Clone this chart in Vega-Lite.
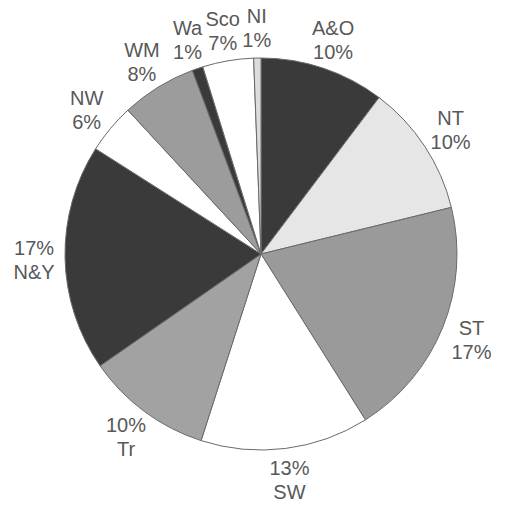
{
  "$schema": "https://vega.github.io/schema/vega-lite/v6.json",
  "autosize": {"type": "none"},
  "width": 400,
  "height": 400,
  "padding": {"left": 61, "top": 54, "right": 48, "bottom": 55},
  "background": "white",
  "data": {
    "values": [
      {"idx": 1, "region": "A&O", "share": 10.3, "label": "A&O\n10%"},
      {"idx": 2, "region": "NT", "share": 10.9, "label": "NT\n10%"},
      {"idx": 3, "region": "ST", "share": 19.9, "label": "ST\n17%"},
      {"idx": 4, "region": "SW", "share": 13.9, "label": "13%\nSW"},
      {"idx": 5, "region": "Tr", "share": 10.4, "label": "10%\nTr"},
      {"idx": 6, "region": "N&Y", "share": 18.7, "label": "17%\nN&Y"},
      {"idx": 7, "region": "NW", "share": 4.1, "label": "NW\n6%"},
      {"idx": 8, "region": "WM", "share": 6.2, "label": "WM\n8%"},
      {"idx": 9, "region": "Wa", "share": 0.9, "label": "Wa\n1%"},
      {"idx": 10, "region": "Sco", "share": 4.2, "label": "Sco\n7%"},
      {"idx": 11, "region": "NI", "share": 0.6, "label": "NI\n1%"}
    ]
  },
  "encoding": {
    "theta": {"field": "share", "type": "quantitative", "stack": true},
    "order": {"field": "idx", "type": "quantitative"}
  },
  "layer": [
    {
      "mark": {"type": "arc", "outerRadius": 196, "stroke": "#6a6a6a", "strokeWidth": 1},
      "encoding": {
        "color": {
          "field": "region",
          "type": "nominal",
          "scale": {
            "domain": ["A&O", "NT", "ST", "SW", "Tr", "N&Y", "NW", "WM", "Wa", "Sco", "NI"],
            "range": ["#3a3a3a", "#e6e6e6", "#9a9a9a", "#ffffff", "#a2a2a2", "#3a3a3a", "#ffffff", "#9c9c9c", "#3a3a3a", "#ffffff", "#dcdcdc"]
          },
          "legend": null
        }
      }
    },
    {
      "mark": {"type": "text", "radius": 227, "dy": -10, "font": "Liberation Sans", "fontSize": 20, "lineHeight": 24, "color": "#585858", "align": "center", "baseline": "middle", "lineBreak": "\n"},
      "encoding": {
        "text": {"field": "label", "type": "nominal"}
      }
    }
  ]
}
